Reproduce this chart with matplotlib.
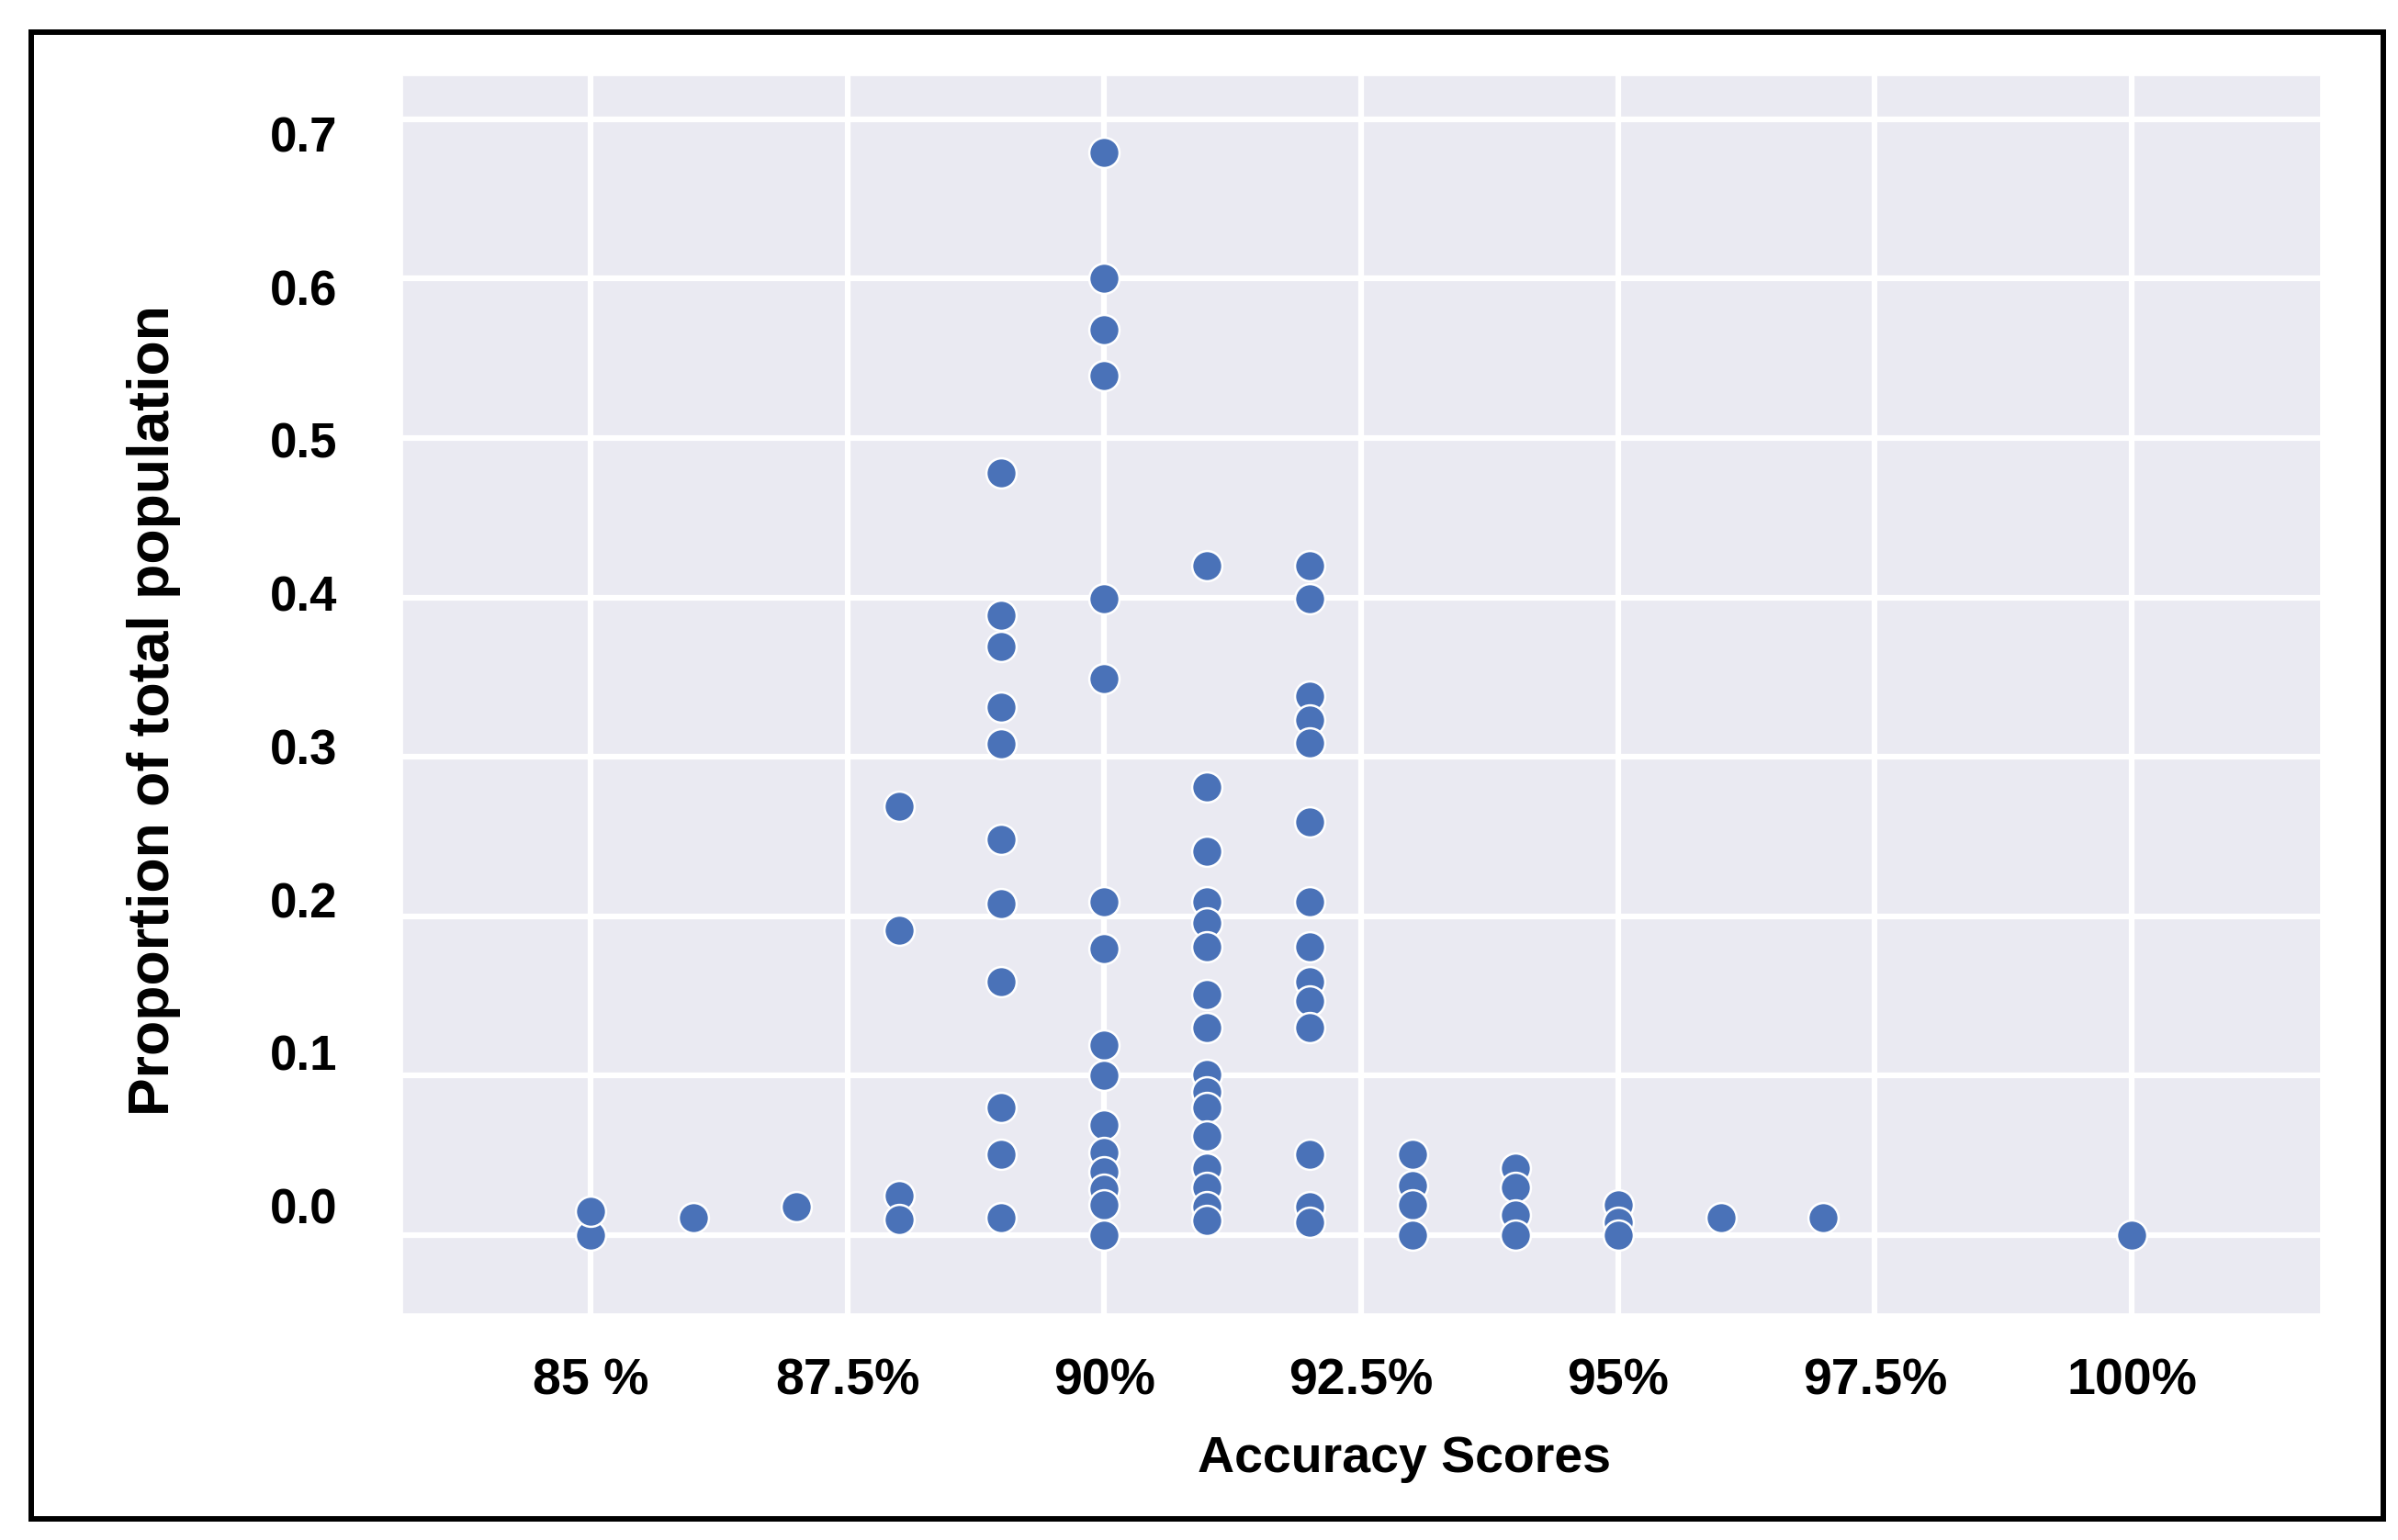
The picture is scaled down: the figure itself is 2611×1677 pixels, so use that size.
import numpy as np
import matplotlib
matplotlib.use("Agg")
import matplotlib.pyplot as plt
import seaborn as sns
from matplotlib.patches import Rectangle


# ============================================================
# DATA
# ============================================================

# proportion of total population for each accuracy score (%)
p85 = [0.0, 0.015]
p86 = [0.011]
p87 = [0.018]
p88 = [0.269, 0.191, 0.025, 0.010]
p89 = [0.478, 0.389, 0.369, 0.331, 0.308, 0.248, 0.208, 0.159, 0.080, 0.051, 0.011]
p90 = [0.679, 0.600, 0.568, 0.539, 0.399, 0.349, 0.209, 0.180, 0.119, 0.100,
       0.069, 0.052, 0.040, 0.029, 0.019, 0.0]
p91 = [0.420, 0.281, 0.241, 0.209, 0.196, 0.181, 0.151, 0.130, 0.101, 0.090,
       0.080, 0.062, 0.042, 0.030, 0.018, 0.009]
p92 = [0.420, 0.399, 0.338, 0.323, 0.309, 0.259, 0.209, 0.181, 0.159, 0.147,
       0.130, 0.051, 0.018, 0.008]
p93 = [0.051, 0.031, 0.019, 0.0]
p94 = [0.042, 0.030, 0.0125, 0.0]
p95 = [0.019, 0.008, 0.0]
p96 = [0.011]
p97 = [0.011]
p100 = [0.0]

columns = [(85, p85), (86, p86), (87, p87), (88, p88), (89, p89), (90, p90),
           (91, p91), (92, p92), (93, p93), (94, p94), (95, p95), (96, p96),
           (97, p97), (100, p100)]

x_ticks = [85, 87.5, 90, 92.5, 95, 97.5, 100]
x_labels = ["85 %", "87.5%", "90%", "92.5%", "95%", "97.5%", "100%"]
y_ticks = [0.0, 0.1, 0.2, 0.3, 0.4, 0.5, 0.6, 0.7]
y_labels = ["0.0", "0.1", "0.2", "0.3", "0.4", "0.5", "0.6", "0.7"]


# ============================================================
# PLOT
# ============================================================

sns.set_theme(style="darkgrid")
plt.rcParams["font.family"] = ["Liberation Sans", "DejaVu Sans"]

xs = np.concatenate([[score] * len(vals) for score, vals in columns])
ys = np.concatenate([vals for _, vals in columns])

fig = plt.figure(figsize=(26.11, 16.77), dpi=100)
ax = fig.add_axes([0.1678, 0.1467, 0.8, 0.8044])

sns.scatterplot(x=xs, y=ys, s=560, color="#4A72B8", edgecolor="white",
                linewidth=1.8, ax=ax, zorder=3)

ax.set_xlim(83.17, 101.84)
ax.set_ylim(-0.0495, 0.7275)
ax.grid(True, color="white", linewidth=4.5)

ax.set_xticks(x_ticks)
ax.set_xticklabels(x_labels, fontsize=40, fontweight="bold")
ax.tick_params(axis="x", length=0, pad=34, colors="black")

# gridlines stay on the data values, labels sit on a slightly squeezed scale
ax.set_yticks(y_ticks)
ax.tick_params(axis="y", length=0, labelleft=False)


def to_label(p):
    return (p - 0.0184) / 0.9603


def to_data(v):
    return 0.0184 + 0.9603 * v


sec = ax.secondary_yaxis("left", functions=(to_label, to_data))
sec.set_yticks(y_ticks)
sec.set_yticklabels(y_labels, fontsize=38, fontweight="bold")
sec.tick_params(length=0, pad=51, colors="black")
for sp in sec.spines.values():
    sp.set_visible(False)

ax.set_xlabel("Accuracy Scores", fontsize=40, fontweight="bold", color="black")
ax.xaxis.set_label_coords(0.5223, -0.0975)
ax.set_ylabel("Proportion of total population", fontsize=45, fontweight="bold",
              color="black")
ax.yaxis.set_label_coords(-0.1154, 0.4875)

# black frame round the whole figure
fig.patches.append(Rectangle((0.013, 0.0137), 0.9809, 0.9654, transform=fig.transFigure,
                             fill=False, edgecolor="black", linewidth=4.3))

fig.savefig("out.png", dpi=100)
plt.close()
print("Saved: out.png")
